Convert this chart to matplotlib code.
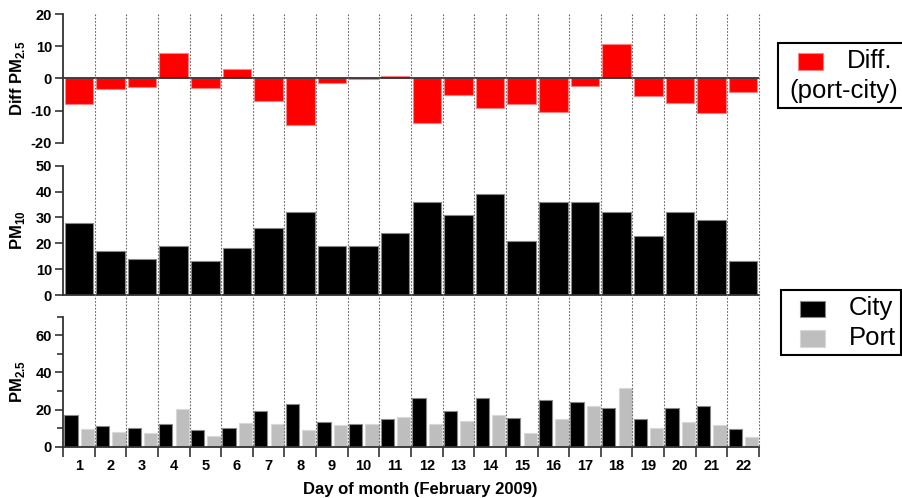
import matplotlib
matplotlib.use("Agg")
import matplotlib.pyplot as plt
import matplotlib.transforms as mtransforms
from matplotlib.patches import Rectangle
from matplotlib.lines import Line2D
from matplotlib.ticker import FixedLocator

plt.rcParams['font.family'] = ['Liberation Sans', 'DejaVu Sans']
plt.rcParams['font.weight'] = 'bold'
plt.rcParams['axes.labelweight'] = 'bold'
plt.rcParams['axes.unicode_minus'] = False
plt.rcParams['mathtext.fontset'] = 'custom'
plt.rcParams['mathtext.rm'] = 'Liberation Sans:bold'
plt.rcParams['mathtext.bf'] = 'Liberation Sans:bold'

# Daily particulate matter, February 2009
days = list(range(1, 23))
diff_pm25 = [-7.8, -3.2, -2.7, 7.9, -3.1, 2.8, -7.0, -14.3, -1.3, -0.3, 0.8,
             -13.9, -5.1, -9.0, -8.0, -10.3, -2.3, 10.8, -5.4, -7.6, -10.7, -4.1]
pm10 = [28, 17, 14, 19, 13, 18, 26, 32, 19, 19, 24,
        36, 31, 39, 21, 36, 36, 32, 23, 32, 29, 13]
pm25_city = [17.1, 11.0, 9.9, 12.0, 8.8, 10.1, 19.0, 23.0, 13.1, 12.0, 15.1,
             26.1, 19.0, 26.1, 15.3, 25.2, 24.1, 21.0, 15.1, 21.0, 22.1, 9.3]
pm25_port = [9.3, 8.1, 7.2, 20.1, 5.9, 12.9, 12.0, 8.8, 11.7, 12.0, 16.0,
             12.2, 14.0, 17.3, 7.2, 14.9, 21.9, 31.8, 10.1, 13.5, 11.5, 5.4]

W, H = 902, 498
fig = plt.figure(figsize=(W / 100, H / 100), dpi=100)


def fx(px):
    return px / W


def fy(py):
    return 1 - py / H


left, right = 63, 759
ax1 = fig.add_axes([fx(left), fy(143), fx(right - left), (143 - 14) / H])
ax2 = fig.add_axes([fx(left), fy(295), fx(right - left), (295 - 165.7) / H])
ax3 = fig.add_axes([fx(left), fy(446.7), fx(right - left), (446.7 - 316.7) / H])

SPINE = '#333333'
TICK_FS = 10.5
LABEL_FS = 12

for ax in (ax1, ax2, ax3):
    ax.set_xlim(0.5, 22.5)
    for s in ('top', 'right'):
        ax.spines[s].set_visible(False)
    ax.spines['left'].set_color(SPINE)
    ax.spines['left'].set_linewidth(1.3)
    ax.spines['bottom'].set_color(SPINE)
    ax.spines['bottom'].set_linewidth(1.3)
    ax.tick_params(axis='y', which='major', direction='out', length=6, width=1.2,
                   color=SPINE, labelsize=TICK_FS, pad=2)
    ax.tick_params(axis='y', which='minor', direction='out', length=4, width=1.2,
                   color=SPINE)
    ax.patch.set_visible(False)

# Top panel: port minus city PM2.5
ax1.bar(days, diff_pm25, width=0.9, color='#ff0000', edgecolor='#ff8080',
        linewidth=0.8, zorder=2)
ax1.axhline(0, color=SPINE, lw=1.3, zorder=3)
ax1.set_ylim(-20, 20)
ax1.set_yticks([-20, -10, 0, 10, 20])
ax1.spines['bottom'].set_visible(False)
ax1.set_xticks([])
ax1.set_ylabel(r'Diff PM$_{2.5}$', fontsize=LABEL_FS, fontweight='bold')

# Middle panel: PM10
ax2.bar(days, pm10, width=0.9, color='black', edgecolor='#888888',
        linewidth=0.8, zorder=2)
ax2.set_ylim(0, 50)
ax2.set_yticks([0, 10, 20, 30, 40, 50])
ax2.set_xticks([])
ax2.set_ylabel(r'PM$_{10}$', fontsize=LABEL_FS, fontweight='bold')

# Bottom panel: PM2.5 at both sites
xc = [d - 0.25 for d in days]
xp = [d + 0.27 for d in days]
ax3.bar(xc, pm25_city, width=0.42, color='black', edgecolor='#888888',
        linewidth=0.8, zorder=2)
ax3.bar(xp, pm25_port, width=0.42, color='#bebebe', edgecolor='#d8d8d8',
        linewidth=0.8, zorder=2)
ax3.set_ylim(0, 70)
ax3.set_yticks([0, 20, 40, 60])
ax3.yaxis.set_minor_locator(FixedLocator([10, 30, 50, 70]))
ax3.set_ylabel(r'PM$_{2.5}$', fontsize=LABEL_FS, fontweight='bold')
boundaries = [d + 0.5 for d in [0] + days]
ax3.xaxis.set_major_locator(FixedLocator(boundaries))
ax3.xaxis.set_minor_locator(FixedLocator(days))
ax3.tick_params(axis='x', which='major', direction='out', length=7, width=1.2,
                color=SPINE, labelbottom=False)
ax3.tick_params(axis='x', which='minor', length=0, pad=9, labelsize=TICK_FS)
ax3.set_xticklabels([str(d) for d in days], minor=True)

for ax in (ax1, ax2, ax3):
    ax.yaxis.set_label_coords(-0.052, 0.5)

# Dotted day separators running through all panels
blend = mtransforms.blended_transform_factory(ax3.transData, fig.transFigure)
for b in boundaries[1:]:
    fig.add_artist(Line2D([b, b], [fy(14), fy(446.7)], transform=blend,
                          color='#666666', lw=0.8, ls=(0, (1.5, 1.5)), zorder=1))

fig.text(fx(420), fy(489), 'Day of month (February 2009)', ha='center',
         va='center', fontsize=LABEL_FS, fontweight='bold')

# Legends
LEG_FS = 18.5
fig.add_artist(Rectangle((fx(778), fy(108)), fx(140), (108 - 43) / H,
                         transform=fig.transFigure, facecolor='white',
                         edgecolor='black', lw=1.5))
fig.add_artist(Rectangle((fx(798), fy(70)), fx(25), 17 / H,
                         transform=fig.transFigure, facecolor='#ff0000',
                         edgecolor='#ff8080', lw=0.8))
fig.text(fx(847), fy(61), 'Diff.', fontsize=LEG_FS, fontweight='normal',
         va='center', ha='left')
fig.text(fx(789), fy(91), '(port-city)', fontsize=LEG_FS, fontweight='normal',
         va='center', ha='left')

fig.add_artist(Rectangle((fx(781), fy(355)), fx(120), (355 - 290) / H,
                         transform=fig.transFigure, facecolor='white',
                         edgecolor='black', lw=1.5))
fig.add_artist(Rectangle((fx(800), fy(316.7)), fx(25), 16 / H,
                         transform=fig.transFigure, facecolor='black',
                         edgecolor='#888888', lw=0.8))
fig.add_artist(Rectangle((fx(800), fy(346.7)), fx(25), 16.7 / H,
                         transform=fig.transFigure, facecolor='#bebebe',
                         edgecolor='#d8d8d8', lw=0.8))
fig.text(fx(849), fy(308), 'City', fontsize=LEG_FS, fontweight='normal',
         va='center', ha='left')
fig.text(fx(849), fy(338), 'Port', fontsize=LEG_FS, fontweight='normal',
         va='center', ha='left')

fig.savefig('out.png', dpi=100)
